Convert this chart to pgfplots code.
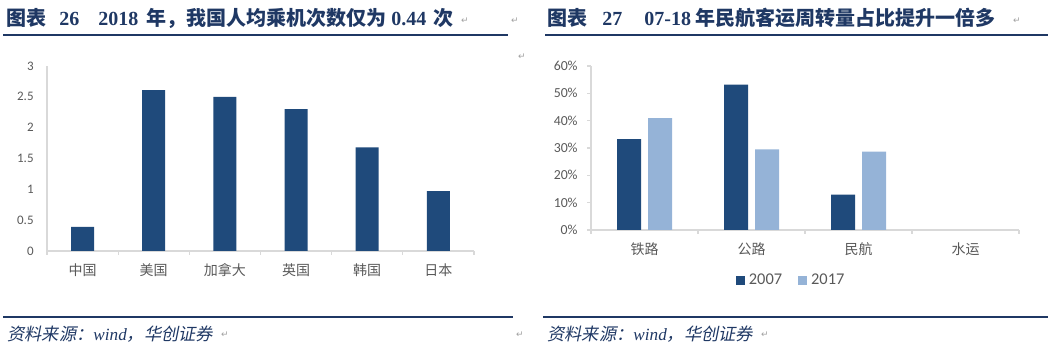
\documentclass[border=0pt]{standalone}
\usepackage{pgfplots}
\pgfplotsset{compat=1.18}
\usepackage{fontspec}
\newfontfamily\cjk{Noto Sans CJK SC}
\newfontfamily\tnr{Liberation Serif}
\newfontfamily\calib{Carlito}
\newfontfamily\dvs{DejaVu Sans}
\newfontfamily\cjkit{Noto Sans CJK SC}[FakeSlant=0.2]
\definecolor{navy}{HTML}{1F3864}
\definecolor{barblue}{HTML}{1F4A7B}
\definecolor{lightblue}{HTML}{95B3D7}
\definecolor{tickgrey}{HTML}{595959}
\definecolor{axisgrey}{HTML}{D9D9D9}
\definecolor{markgrey}{HTML}{A0A0A0}
\begin{document}
\begin{tikzpicture}
\path[use as bounding box] (0,0) rectangle (524pt,175.5pt);
% titles
\node[anchor=west, inner sep=0pt, text=navy, font=\bfseries\fontsize{10}{11}\selectfont] at (3pt,166.5pt)
  {{\cjk 图表}\hspace{6.5pt}{\tnr 26}\hspace{9.5pt}{\tnr 2018}\hspace{4pt}{\cjk 年，我国人均乘机次数仅为}\hspace{2.5pt}{\tnr 0.44}\hspace{3.5pt}{\cjk 次}};
\node[anchor=west, inner sep=0pt, text=navy, font=\bfseries\fontsize{10}{11}\selectfont] at (273.5pt,166.5pt)
  {{\cjk 图表}\hspace{7.5pt}{\tnr 27}\hspace{11pt}{\tnr 07-18}\hspace{2pt}{\cjk 年民航客运周转量占比提升一倍多}};
\draw[navy, line width=1.1pt] (1.5pt,158pt) -- (254pt,158pt);
\draw[navy, line width=1.1pt] (272.5pt,158pt) -- (524pt,158pt);
\draw[navy, line width=1.1pt] (1.5pt,17pt) -- (256.5pt,17pt);
\draw[navy, line width=1.1pt] (271.5pt,17pt) -- (524pt,17pt);
% sources
\node[anchor=west, inner sep=0pt, text=navy, font=\fontsize{8.6}{9}\selectfont] at (3.5pt,8.5pt) {{\cjkit 资料来源：}{\tnr\itshape wind}{\cjkit ，华创证券}};
\node[anchor=west, inner sep=0pt, text=navy, font=\fontsize{8.6}{9}\selectfont] at (273.5pt,8.5pt) {{\cjkit 资料来源：}{\tnr\itshape wind}{\cjkit ，华创证券}};
% paragraph marks
\foreach \p in {(232.5pt,165pt),(257.5pt,165pt),(508.5pt,165pt),(261pt,147pt),(260pt,8pt),(112.5pt,8pt),(382.5pt,8pt)}
  \node[text=markgrey, inner sep=0pt, font=\dvs\fontsize{4.5}{5}\selectfont] at \p {↵};

% left chart
\begin{axis}[
  at={(23.5pt,50pt)}, anchor=south west, scale only axis,
  width=213.5pt, height=92.5pt,
  xmin=-0.5, xmax=5.5, ymin=0, ymax=3,
  axis lines*=left,
  axis line style={draw=axisgrey, line width=0.6pt},
  ytick={0,0.5,1,1.5,2,2.5,3},
  yticklabels={0,0.5,1,1.5,2,2.5,3},
  xtick={0,1,2,3,4,5},
  xticklabels={中国,美国,加拿大,英国,韩国,日本},
  minor xtick={-0.5,0.5,1.5,2.5,3.5,4.5,5.5},
  major tick length=0pt, minor tick length=2pt,
  tick align=outside,
  minor tick style={draw=axisgrey, line width=0.6pt},
  yticklabel style={font=\calib\fontsize{6.5}{7}\selectfont, text=tickgrey, inner sep=0pt, anchor=east, xshift=-6.5pt},
  xticklabel style={font=\cjk\fontsize{7}{8}\selectfont, text=tickgrey, inner sep=0pt, anchor=north, yshift=-6pt},
  clip=false,
]
\addplot[ybar, bar width=11.5pt, bar shift=0pt, fill=barblue, draw=none]
  coordinates {(0,0.39) (1,2.61) (2,2.50) (3,2.30) (4,1.68) (5,0.97)};
\end{axis}

% right chart
\begin{axis}[
  at={(295.5pt,60.5pt)}, anchor=south west, scale only axis,
  width=214pt, height=82pt,
  xmin=-0.5, xmax=3.5, ymin=0, ymax=60,
  axis lines*=left,
  axis line style={draw=axisgrey, line width=0.6pt},
  ytick={0,10,20,30,40,50,60},
  yticklabels={0\%,10\%,20\%,30\%,40\%,50\%,60\%},
  xtick={0,1,2,3},
  xticklabels={铁路,公路,民航,水运},
  minor xtick={-0.5,0.5,1.5,2.5,3.5},
  major tick length=0pt, minor tick length=2pt,
  extra y ticks={0,10,20,30,40,50,60}, extra y tick labels={},
  extra y tick style={major tick length=2pt, tick style={draw=axisgrey, line width=0.6pt}},
  tick align=outside,
  minor tick style={draw=axisgrey, line width=0.6pt},
  yticklabel style={font=\calib\fontsize{6.9}{7}\selectfont, text=tickgrey, inner sep=0pt, anchor=east, xshift=-6.5pt},
  xticklabel style={font=\cjk\fontsize{7}{8}\selectfont, text=tickgrey, inner sep=0pt, anchor=north, yshift=-6pt},
  legend style={at={(0.470,-0.311)}, anchor=center, draw=none, fill=none,
    font=\calib\fontsize{8.2}{9}\selectfont, text=tickgrey, inner sep=0pt,
    /tikz/every even column/.append style={column sep=6pt}},
  legend columns=2,
  legend image code/.code={\fill[#1] (0pt,-2.25pt) rectangle (4.5pt,2.25pt);},
  clip=false,
]
\addplot[ybar, bar width=12pt, bar shift=-7.75pt, fill=barblue, draw=none]
  coordinates {(0,33.2) (1,53.2) (2,12.9)};
\addplot[ybar, bar width=12pt, bar shift=7.75pt, fill=lightblue, draw=none]
  coordinates {(0,40.9) (1,29.5) (2,28.7)};
\legend{2007,2017}
\end{axis}
\end{tikzpicture}
\end{document}
